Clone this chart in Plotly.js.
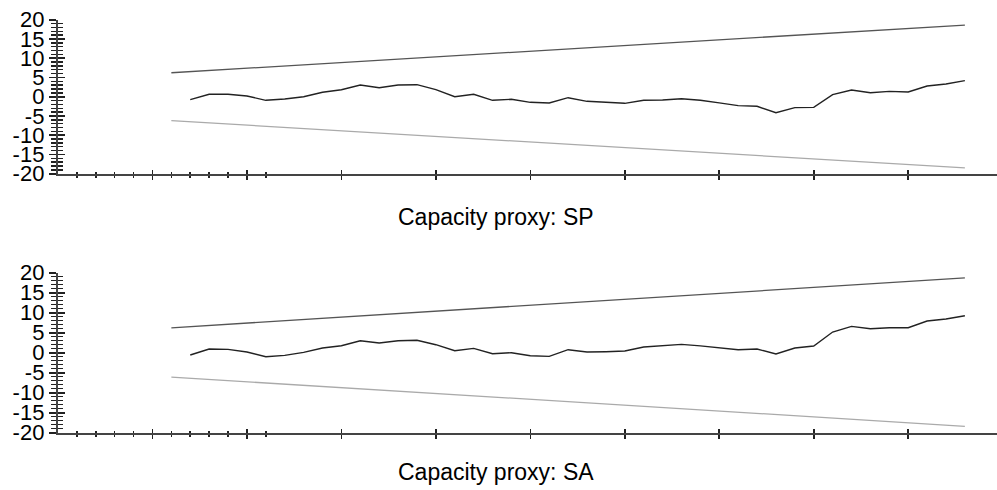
<!DOCTYPE html>
<html>
<head>
<meta charset="utf-8">
<script src="https://cdn.plot.ly/plotly-3.0.1.min.js"></script>
<style>html,body{margin:0;padding:0;background:#fff;}#chart{width:997px;height:490px;}</style>
</head>
<body>
<div id="chart"></div>
<script>
// x positions (observation index) of the CUSUM series
const obsIndex = [7,8,9,10,11,12,13,14,15,16,17,18,19,20,21,22,23,24,25,26,27,28,29,30,31,32,33,34,35,36,37,38,39,40,41,42,43,44,45,46,47,48];
// CUSUM, capacity proxy SP
const cusumSP = [-0.78,0.62,0.62,0.18,-0.94,-0.6,0.0,1.14,1.82,3.04,2.34,3.04,3.12,1.85,0.0,0.62,-0.94,-0.68,-1.46,-1.64,-0.26,-1.2,-1.46,-1.72,-0.94,-0.86,-0.52,-0.94,-1.6,-2.33,-2.5,-4.15,-2.85,-2.77,0.53,1.74,1.04,1.39,1.22,2.78,3.3,4.16];
// CUSUM, capacity proxy SA
const cusumSA = [-0.58,0.92,0.84,0.17,-1.0,-0.67,0.08,1.17,1.75,3.0,2.42,3.0,3.1,2.0,0.5,1.08,-0.25,0.0,-0.75,-0.92,0.75,0.17,0.25,0.42,1.42,1.75,2.08,1.7,1.2,0.75,0.92,-0.33,1.17,1.67,5.17,6.58,6.0,6.25,6.25,7.92,8.42,9.25];
// 5% significance bounds (end points)
const boundX = [6,48];
const upperSP = [6.22,18.6];
const lowerSP = [-6.22,-18.5];
const upperSA = [6.22,18.7];
const lowerSA = [-6.1,-18.4];
// axis ticks
const xMajor = [5,10,15,20,25,30,35,40,45];
const xMinor = [1,2,3,4,6,7,8,9,11];
const yTicks = [-20,-15,-10,-5,0,5,10,15,20];
const yLabels = ['-20','-15','-10','-5','0','5','10','15','20'];
const titles = ['Capacity proxy: SP','Capacity proxy: SA'];

const font = {family:'Liberation Sans, Arial, sans-serif', size:22, color:'#000'};
const xr = [0,49.7];

function line(x,y,color,w,xa,ya){
  return {x:x,y:y,type:'scatter',mode:'lines',line:{color:color,width:w},xaxis:xa,yaxis:ya,hoverinfo:'skip',showlegend:false};
}
const traces = [
  line(boundX,upperSP,'#555',1.3,'x','y'),
  line(boundX,lowerSP,'#aaa',1.3,'x','y'),
  line(obsIndex,cusumSP,'#222',1.4,'x','y'),
  line(boundX,upperSA,'#555',1.3,'x2','y2'),
  line(boundX,lowerSA,'#aaa',1.3,'x2','y2'),
  line(obsIndex,cusumSA,'#222',1.4,'x2','y2'),
  line([null],[null],'#000',1,'x3','y3'),
  line([null],[null],'#000',1,'x4','y4')
];

function xa(anchor, ticks, showline, overlay){
  const o = {domain:[58/997,1], anchor:anchor, range:xr, tickmode:'array', tickvals:xMajor,
    ticks:ticks, ticklen:4, tickwidth:1.6, tickcolor:'#222', showticklabels:false,
    showline:showline, linecolor:'#444', linewidth:2.2, showgrid:false, zeroline:false, fixedrange:true,
    minor:{tickmode:'array', tickvals:xMinor, ticks:ticks, ticklen:2, tickwidth:1.6, tickcolor:'#222', showgrid:false}};
  if (overlay) o.overlaying = overlay;
  return o;
}
function ya(anchor, dom, ticks, showline, labels, overlay){
  const o = {domain:dom, anchor:anchor, range:[-20,20], tickmode:'array', tickvals:yTicks, ticktext:yLabels,
    ticks:ticks, ticklen:7, tickwidth:1.6, tickcolor:'#222', showticklabels:labels, tickfont:font,
    showline:showline, linecolor:'#444', linewidth:2.2, showgrid:false, zeroline:false, fixedrange:true,
    minor:{dtick:1, tick0:0, ticks:ticks, ticklen:5, tickwidth:1.4, tickcolor:'#222', showgrid:false}};
  if (overlay) o.overlaying = overlay;
  return o;
}
const dom1 = [1-173.7/490, 1-19.7/490];
const dom2 = [1-432.7/490, 1-272.7/490];

const layout = {
  width:997, height:490, margin:{l:0,r:0,t:0,b:0}, paper_bgcolor:'#fff', plot_bgcolor:'rgba(0,0,0,0)',
  showlegend:false, font:font,
  xaxis: xa('y','outside',true),
  yaxis: ya('x',dom1,'outside',true,true),
  xaxis2: xa('y2','outside',true),
  yaxis2: ya('x2',dom2,'outside',true,true),
  xaxis3: xa('y','inside',false,'x'),
  yaxis3: ya('x',dom1,'inside',false,false,'y'),
  xaxis4: xa('y2','inside',false,'x2'),
  yaxis4: ya('x2',dom2,'inside',false,false,'y2'),
  annotations: [
    {text:titles[0], xref:'paper', yref:'paper', x:0.497, y:1-217/490, xanchor:'center', yanchor:'middle', showarrow:false, font:{family:font.family,size:23,color:'#000'}},
    {text:titles[1], xref:'paper', yref:'paper', x:0.497, y:1-472/490, xanchor:'center', yanchor:'middle', showarrow:false, font:{family:font.family,size:23,color:'#000'}}
  ]
};
Plotly.newPlot('chart', traces, layout, {staticPlot:true, displayModeBar:false});
</script>
</body>
</html>
